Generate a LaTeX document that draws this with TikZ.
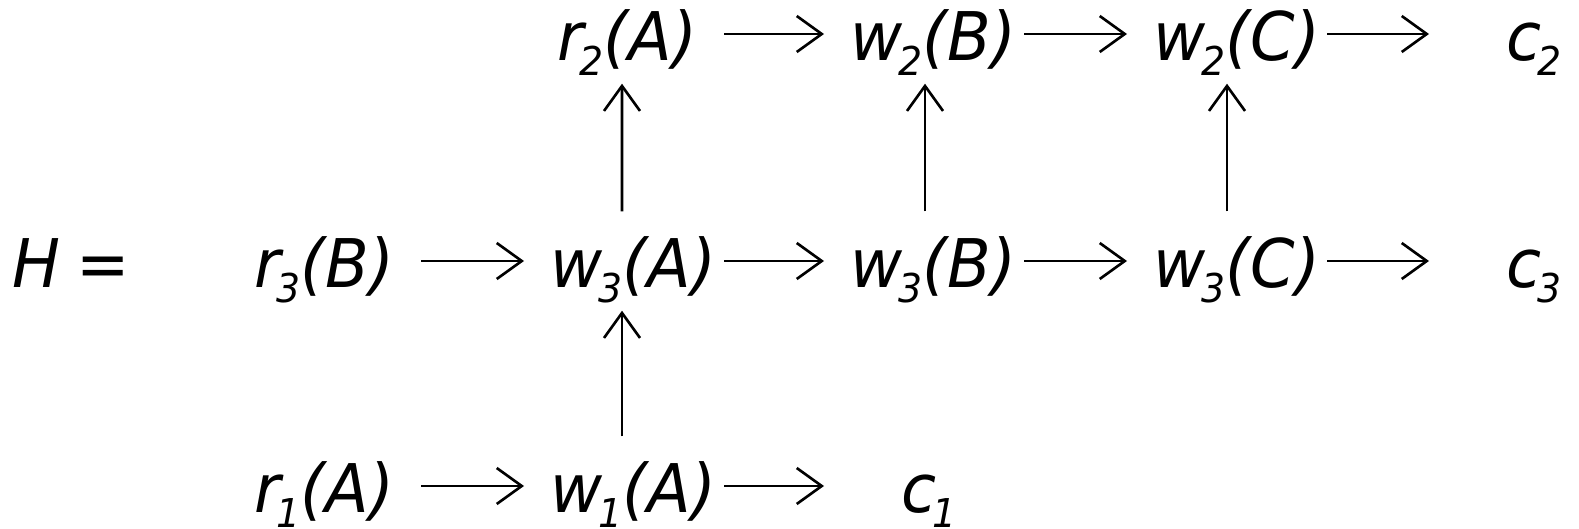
\documentclass[tikz,border=0pt]{standalone}
\usepackage{fontspec}
\setmainfont[FakeStretch=0.95]{DejaVu Sans}
\usetikzlibrary{arrows.meta}

\newcommand\sx[1]{\kern-0.4mm\raisebox{-1.5mm}{\fontsize{11.3}{12}\selectfont #1}}

\begin{document}
\begin{tikzpicture}[
  font=\fontsize{19.1}{23}\selectfont\itshape,
  >={Straight Barb[length=2.5mm,width=3.6mm]},
  op/.style={anchor=base west, inner sep=0pt, text height=7.6mm, text depth=2.2mm, text width=1.73cm, align=left},
  rop/.style={op, text width=1.66cm},
  fin/.style={anchor=base west, inner sep=0pt, text height=7.6mm, text depth=2.2mm},
  flow/.style={->, line width=0.75pt, shorten >=2.6mm},
  tofin/.style={flow, shorten >=7.7mm},
  dep/.style={->, line width=0.75pt}
]
  \useasboundingbox (0,0) rectangle (15.79,-5.29);
  % transaction 2
  \node[rop] (r2a) at (5.57,-0.61) {r\sx{2}(A)};
  \node[op]  (w2b) at (8.50,-0.61) {w\sx{2}(B)};
  \node[op]  (w2c) at (11.53,-0.61) {w\sx{2}(C)};
  \node[fin] (c2)  at (15.06,-0.61) {c\sx{2}};
  % transaction 3
  \node[fin] (h)   at (0.12,-2.88) {H\hspace{0.16cm}=};
  \node[rop] (r3b) at (2.54,-2.88) {r\sx{3}(B)};
  \node[op]  (w3a) at (5.50,-2.88) {w\sx{3}(A)};
  \node[op]  (w3b) at (8.50,-2.88) {w\sx{3}(B)};
  \node[op]  (w3c) at (11.53,-2.88) {w\sx{3}(C)};
  \node[fin] (c3)  at (15.06,-2.88) {c\sx{3}};
  % transaction 1
  \node[rop] (r1a) at (2.54,-5.13) {r\sx{1}(A)};
  \node[op]  (w1a) at (5.50,-5.13) {w\sx{1}(A)};
  \node[fin] (c1)  at (9.01,-5.13) {c\sx{1}};

  \draw[flow] (r2a) -- (w2b);
  \draw[flow] (w2b) -- (w2c);
  \draw[tofin] (w2c) -- (c2);
  \draw[flow] (r3b) -- (w3a);
  \draw[flow] (w3a) -- (w3b);
  \draw[flow] (w3b) -- (w3c);
  \draw[tofin] (w3c) -- (c3);
  \draw[flow] (r1a) -- (w1a);
  \draw[tofin] (w1a) -- (c1);

  % conflicts
  \draw[dep] ([xshift=7.2mm]w3a.north west) -- ([xshift=6.5mm]r2a.south west);
  \draw[dep] ([xshift=7.5mm]w3b.north west) -- ([xshift=7.5mm]w2b.south west);
  \draw[dep] ([xshift=7.4mm]w3c.north west) -- ([xshift=7.4mm]w2c.south west);
  \draw[dep] ([xshift=7.2mm]w1a.north west) -- ([xshift=7.2mm]w3a.south west);
\end{tikzpicture}
\end{document}
